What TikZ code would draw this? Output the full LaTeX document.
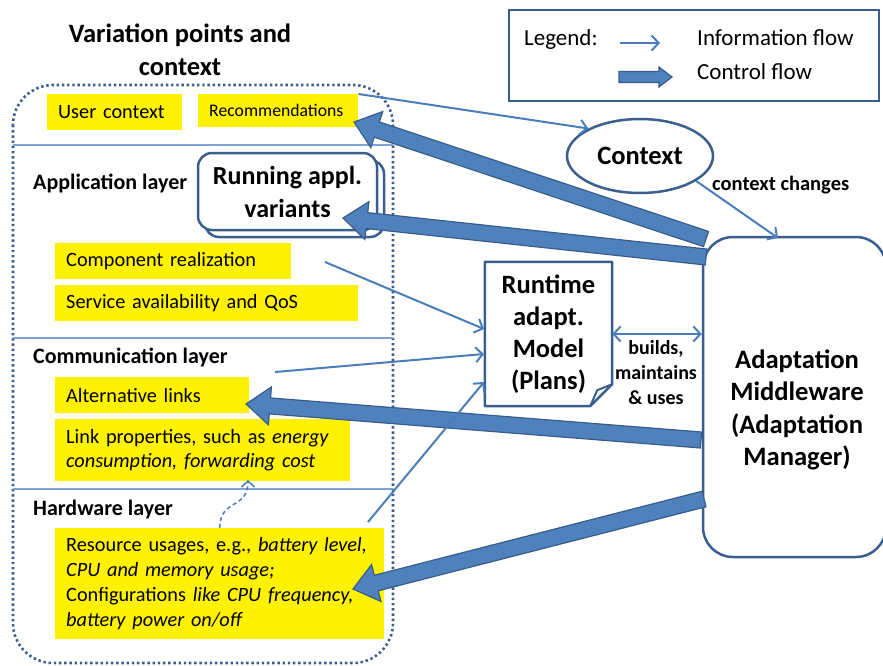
\documentclass[tikz,border=0pt]{standalone}
\usepackage{fontspec}
\setmainfont{Carlito}
\usetikzlibrary{calc,shapes.geometric,arrows.meta}

\definecolor{infoblue}{HTML}{4A7EBB}
\definecolor{ctrlfill}{HTML}{4F81BD}
\definecolor{ctrldraw}{HTML}{385D8A}
\definecolor{frameblue}{HTML}{3A5F8E}
\definecolor{layerline}{HTML}{7EA3D3}

% block arrow: from, to, half shaft, half head, head length
\newcommand{\ctrlarrow}[5]{%
  \coordinate (hb) at ($(#2)!#5!(#1)$);
  \filldraw[ctrl] ($(#1)!#3!90:(#2)$) -- ($(hb)!#3!90:(#2)$) -- ($(hb)!#4!90:(#2)$)
    -- (#2) -- ($(hb)!#4!-90:(#2)$) -- ($(hb)!#3!-90:(#2)$) -- ($(#1)!#3!-90:(#2)$) -- cycle;
}

\tikzset{
  ybox/.style={fill=yellow, anchor=north west, inner xsep=11pt, inner ysep=0pt,
    align=left, font=\fontsize{20.3}{25}\selectfont},
  layer/.style={anchor=base west, inner sep=0pt, font=\bfseries\fontsize{22}{24}\selectfont},
  legtext/.style={anchor=base west, inner sep=0pt, font=\fontsize{23}{26}\selectfont},
  info/.style={draw=infoblue, line width=2pt, -{Straight Barb[length=7pt,width=15pt]}},
  infoboth/.style={info, {Straight Barb[length=7pt,width=15pt]}-{Straight Barb[length=7pt,width=15pt]}},
  infodash/.style={draw=infoblue, line width=1.5pt, dash pattern=on 4pt off 3pt,
    -{Straight Barb[length=6pt,width=13pt]}},
  ctrl/.style={fill=ctrlfill, draw=ctrldraw, line width=1.2pt, line join=miter},
  blueframe/.style={draw=frameblue, line width=2.5pt, fill=white},
}

\begin{document}
\begin{tikzpicture}[x=1pt, y=-1pt]
\useasboundingbox (0,0) rectangle (883,666);

% Title of the variation points frame
\node[align=center, inner sep=0pt, font=\bfseries\fontsize{26.5}{33}\selectfont] (title) at (180,50) {Variation points and\\context};

% Dotted frame and layer separators
\draw[frameblue, line width=2.6pt, dash pattern=on 2.4pt off 2.8pt, rounded corners=40pt] (13,85) rectangle (393,663);
\draw[layerline, line width=1.2pt] (13,145) -- (393,145);
\draw[layerline, line width=1.2pt] (13,338) -- (393,338);
\draw[layerline, line width=1.2pt] (13,489) -- (393,489);

% Layer labels
\node[layer] (app) at (33,189) {Application layer};
\node[layer] (com) at (33,363) {Communication layer};
\node[layer] (hw) at (33,515) {Hardware layer};

% Yellow variation points
\node[ybox, text width=113pt, minimum height=36pt] (usr) at (47,94) {User context};
\node[ybox, text width=138pt, minimum height=33pt, font=\fontsize{17.7}{20}\selectfont] (rec) at (198,94) {Recommendations};
\node[ybox, text width=214pt, minimum height=36pt] (comp) at (55,243) {Component realization};
\node[ybox, text width=281pt, minimum height=36pt] (serv) at (55,285) {Service availability and QoS};
\node[ybox, text width=172pt, minimum height=36pt] (alt) at (55,377) {Alternative links};
\node[ybox, text width=273pt, minimum height=62pt, font=\fontsize{20.3}{24}\selectfont] (link) at (55,419) {Link properties, such as \textit{energy}\\\textit{consumption, forwarding cost}};
\node[ybox, text width=307pt, minimum height=111pt] (res) at (55,528) {Resource usages, e.g., \textit{battery level,}\\\textit{CPU and memory usage;}\\Configurations \textit{like CPU frequency,}\\\textit{battery power on/off}};

% Running application variants (stacked boxes)
\draw[blueframe, rounded corners=14pt] (205,160) rectangle (384,237);
\node[blueframe, rounded corners=14pt, minimum width=179pt, minimum height=77pt, inner sep=0pt,
  align=center, font=\bfseries\fontsize{26}{33}\selectfont] (run) at (287.5,191.5) {Running appl.\\variants};

% Legend
\draw[frameblue, line width=2.5pt] (509,10) rectangle (879,101);
\node[legtext] (leg) at (524,46) {Legend:};
\node[legtext] (infotxt) at (697,46) {Information flow};
\node[legtext] (ctrltxt) at (697,80) {Control flow};
\coordinate (iA) at (620,43);
\coordinate (iB) at (660,43);
\coordinate (cA) at (619,77);
\coordinate (cB) at (672,77);
\draw[info] (iA) -- (iB);
\ctrlarrow{cA}{cB}{5.5pt}{10pt}{13pt}

% Context
\node[blueframe, ellipse, minimum width=146pt, minimum height=74pt, inner sep=0pt,
  font=\bfseries\fontsize{26.5}{28}\selectfont] (ctx) at (640,156) {Context};
\node[anchor=base west, inner sep=0pt, font=\bfseries\fontsize{20.5}{22}\selectfont] (chg) at (712,190) {context changes};

% Adaptation middleware
\node[blueframe, rounded corners=30pt, minimum width=183pt, minimum height=320pt] (mw) at (794.5,397) {};
\node[align=center, inner sep=0pt, font=\bfseries\fontsize{26.6}{32.5}\selectfont] (mwtxt) at (797,410) {Adaptation\\Middleware\\(Adaptation\\Manager)};

% Runtime adaptation model (document)
\node[minimum width=127pt, minimum height=144pt, inner sep=0pt, align=center,
  font=\bfseries\fontsize{26.5}{32}\selectfont] (rtm) at (548.5,334) {Runtime\\adapt.\\Model\\(Plans)};
\draw[frameblue, line width=2.5pt, line join=round] (rtm.north west) -- (rtm.north east)
  -- ($(rtm.south east)+(0,-22)$) -- ($(rtm.south east)+(-22,0)$) -- (rtm.south west) -- cycle;
\draw[frameblue, line width=2pt, line join=round] ($(rtm.south east)+(0,-22)$)
  -- ($(rtm.south east)+(-15,-16)$) -- ($(rtm.south east)+(-22,0)$);
\node[align=center, inner sep=0pt, font=\bfseries\fontsize{20}{25}\selectfont] (bmu) at (656,373) {builds,\\maintains\\\& uses};

% Control flow
\coordinate (mwA) at (706,239);
\coordinate (mwB) at (706,257);
\coordinate (mwC) at (701,440);
\coordinate (mwD) at (704,499);
\coordinate (recTip) at (354,122);
\coordinate (runTip) at (343,218);
\coordinate (altTip) at (246,404);
\coordinate (resTip) at (353,589);
\ctrlarrow{mwA}{recTip}{8pt}{19pt}{24pt}
\ctrlarrow{mwB}{runTip}{8pt}{19pt}{24pt}
\ctrlarrow{mwC}{altTip}{8pt}{19pt}{24pt}
\ctrlarrow{mwD}{resTip}{8pt}{19pt}{24pt}

% Information flow
\coordinate (compOut) at (325,262);
\coordinate (comOut) at (275,372);
\coordinate (hwOut) at (368,522);
\coordinate (rtmIn1) at (484,329);
\coordinate (rtmIn2) at (484,354);
\coordinate (rtmIn3) at (484,382);
\coordinate (mwIn) at (778,238);
\coordinate (linkIn) at (248,480);
\draw[info] (rec.north east) -- (ctx.152);
\draw[info] (ctx.-24) -- (mwIn);
\draw[info] (compOut) -- (rtmIn1);
\draw[info] (comOut) -- (rtmIn2);
\draw[info] (hwOut) -- (rtmIn3);
\draw[infoboth] (rtm.east) -- (rtm.east -| mw.west);
\draw[infodash] (res.north) .. controls (220,498) and (248,510) .. (linkIn);

\end{tikzpicture}
\end{document}
